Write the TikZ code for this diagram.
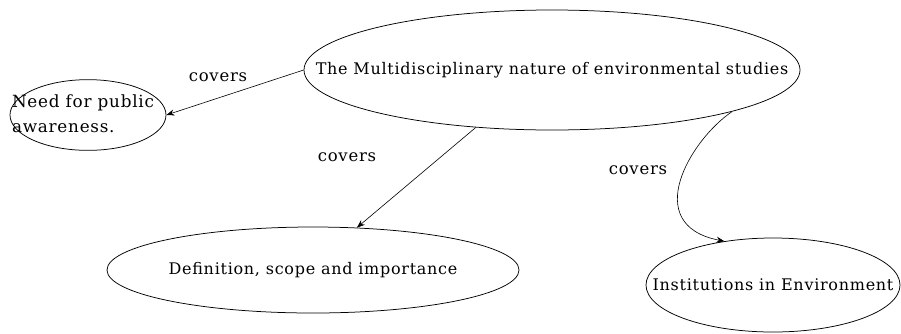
\documentclass[tikz,border=0pt]{standalone}
\usepackage{fontspec}
\setmainfont{DejaVu Serif}[LetterSpace=4.5]
\usetikzlibrary{shapes.geometric,arrows.meta}
\tikzset{
  bubble/.style={draw, ellipse, inner sep=0pt, line width=0.75pt},
  lbl/.style={font=\fontsize{16.5}{18}\selectfont, inner sep=0pt},
  conn/.style={-{Stealth[length=8pt,width=6pt]}, line width=0.6pt},
}
\newcommand{\zbox}[1]{\makebox[0pt][c]{#1}}
\begin{document}
\begin{tikzpicture}[x=1pt,y=-1pt]
\useasboundingbox (0,0) rectangle (901,333);
\node[bubble, minimum width=496pt, minimum height=120pt] (main) at (552,70)
  {\zbox{\fontsize{16}{18}\selectfont The Multidisciplinary nature of environmental studies}};
\node[bubble, minimum width=156pt, minimum height=66pt] (need) at (88,115)
  {\zbox{\hspace*{-10pt}\fontsize{16.8}{25}\selectfont\begin{tabular}{@{}l@{}}Need for public\\awareness.\end{tabular}}};
\node[bubble, minimum width=412pt, minimum height=86pt] (def) at (313,270)
  {\zbox{\fontsize{16}{18}\selectfont Definition, scope and importance}};
\node[bubble, minimum width=254pt, minimum height=94pt] (inst) at (773,285)
  {\zbox{\fontsize{16}{18}\selectfont Institutions in Environment}};
\node[lbl] (c1) at (218,77) {covers};
\node[lbl] (c2) at (347,157) {covers};
\node[lbl] (c3) at (638,170) {covers};
\draw[conn] (main.west) -- (need.east);
\draw[conn] (main.217) -- (def.44);
\draw[conn] (main.347) .. controls (690,140) and (640,225) .. (inst.138);
\end{tikzpicture}
\end{document}
